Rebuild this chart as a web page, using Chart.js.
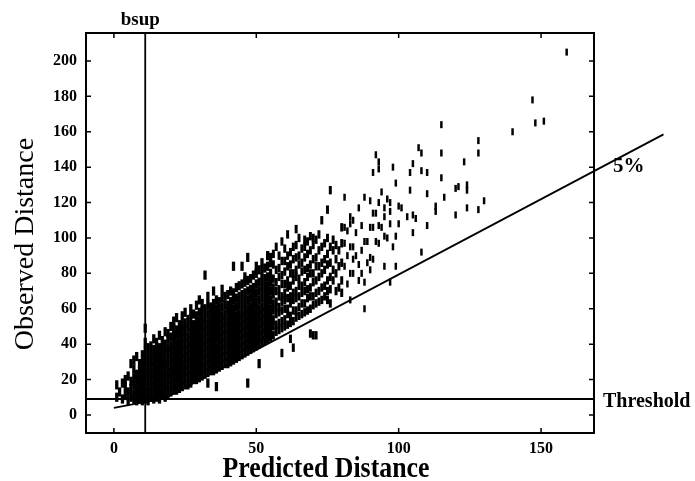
<!DOCTYPE html>
<html>
<head>
<meta charset="utf-8">
<script src="https://cdn.jsdelivr.net/npm/chart.js@4"></script>
<style>
  html, body { margin: 0; padding: 0; background: #fff; }
  canvas { display: block; }
</style>
</head>
<body>
<canvas id="chart" width="695" height="481"></canvas>
<script>
// axis ticks
const xTicks = [0, 50, 100, 150]
const yTicks = [0, 20, 40, 60, 80, 100, 120, 140, 160, 180, 200]

// reference lines
const bsup = 11
const threshold = 9
const fivePct = [[0, 4], [18, 9.5], [193, 158.5]]

const leftCols = [
  [1, [10, 17]], [2, [13]], [3, [18, 9]], [4, [16, 11, 20]], [5, [8, 13, 22]],
  [6, [10, 15, 19, 29]], [7, [9, 12, 17, 21, 26, 31]], [8, [8, 11, 14, 19, 23, 33]],
  [9, [9, 12, 16, 20, 25, 29]]
]

const denseCols = [
  [10, [8, 11, 15, 18, 22, 26, 29, 34]],
  [11, [9, 13, 16, 20, 24, 27, 31, 36, 41, 49]],
  [12, [8, 12, 15, 19, 22, 26, 30, 33, 38]],
  [13, [10, 13, 17, 21, 24, 28, 31, 35, 39]],
  [14, [9, 12, 16, 19, 23, 27, 30, 34, 37, 43]],
  [15, [10, 14, 17, 21, 25, 28, 32, 36, 41]],
  [16, [9, 13, 16, 20, 23, 27, 31, 35, 38, 45]],
  [17, [11, 15, 18, 22, 26, 30, 33, 37, 42]],
  [18, [10, 14, 17, 21, 25, 29, 32, 36, 40, 47]],
  [19, [12, 16, 20, 23, 27, 31, 35, 38, 43, 46]],
  [20, [13, 17, 21, 24, 28, 32, 36, 39, 44, 50]],
  [21, [14, 18, 22, 25, 29, 33, 37, 41, 45, 49, 53]],
  [22, [14, 18, 21, 25, 29, 33, 36, 40, 45, 48, 55]],
  [23, [15, 19, 23, 27, 30, 34, 38, 42, 46, 51]],
  [24, [16, 20, 24, 27, 31, 35, 39, 43, 47, 51, 56]],
  [25, [17, 21, 25, 28, 32, 36, 40, 44, 48, 52, 58]],
  [26, [17, 21, 25, 29, 33, 37, 40, 44, 49, 54]],
  [27, [18, 22, 26, 30, 34, 38, 42, 46, 50, 55, 60]],
  [28, [20, 23, 27, 31, 35, 39, 43, 47, 51, 57]],
  [29, [20, 24, 28, 32, 36, 40, 44, 48, 52, 56, 62]],
  [30, [21, 25, 29, 33, 37, 41, 45, 49, 53, 58, 65]],
  [31, [22, 26, 30, 34, 38, 42, 46, 50, 54, 59, 63]],
  [32, [23, 27, 31, 35, 39, 43, 47, 51, 55, 60, 79]],
  [33, [18, 24, 28, 32, 36, 40, 44, 48, 52, 57, 62, 67]],
  [34, [25, 29, 33, 37, 41, 45, 49, 53, 57, 61]],
  [35, [25, 29, 33, 37, 42, 46, 50, 54, 58, 63, 70]],
  [36, [16, 26, 30, 34, 38, 43, 47, 51, 55, 60, 65]],
  [37, [27, 31, 35, 39, 43, 47, 51, 55, 59, 64]],
  [38, [28, 32, 36, 40, 44, 48, 52, 56, 61, 66, 71]],
  [39, [29, 33, 37, 41, 45, 49, 53, 57, 62, 67]],
  [40, [29, 33, 37, 41, 45, 49, 53, 58, 62, 68]],
  [41, [30, 34, 38, 42, 46, 50, 54, 59, 64, 70]],
  [42, [31, 35, 39, 43, 47, 51, 55, 60, 65, 69, 84]],
  [43, [32, 36, 40, 44, 48, 52, 56, 61, 66, 72]],
  [44, [33, 37, 41, 45, 49, 53, 57, 62, 67, 73]],
  [45, [34, 38, 42, 46, 50, 54, 58, 63, 68, 74, 84]],
  [46, [35, 39, 43, 47, 51, 55, 59, 64, 69, 75, 78]],
  [47, [18, 36, 40, 44, 48, 52, 56, 60, 65, 70, 76, 89]],
  [48, [37, 41, 45, 49, 53, 57, 61, 66, 71, 77]],
  [49, [38, 42, 46, 50, 54, 58, 62, 67, 72, 79]],
  [50, [39, 43, 47, 51, 55, 59, 64, 69, 74, 80, 84]],
  [51, [29, 40, 44, 48, 52, 56, 60, 65, 70, 75, 82]],
  [52, [41, 45, 49, 53, 57, 61, 66, 71, 76, 81, 86]],
  [53, [42, 46, 50, 54, 58, 62, 67, 72, 77, 83]],
  [54, [43, 47, 51, 55, 59, 63, 68, 73, 78, 84, 90]],
  [55, [44, 48, 52, 56, 60, 65, 70, 75, 80, 86, 89]]
]

const midCols = [
  [56, [45, 50, 54, 59, 63, 68, 72, 77, 85, 91]],
  [57, [47, 51, 57, 61, 64, 70, 75, 82, 95]],
  [58, [48, 52, 58, 61, 67, 71, 78, 83, 90]],
  [59, [35, 49, 53, 59, 64, 67, 74, 79, 87, 98]],
  [60, [50, 54, 60, 65, 69, 74, 81, 87, 94]],
  [61, [51, 57, 60, 66, 72, 76, 84, 90, 102]],
  [62, [43, 52, 56, 63, 67, 73, 80, 85, 92]],
  [63, [38, 53, 59, 65, 69, 76, 80, 88, 95]],
  [64, [55, 59, 66, 70, 78, 82, 89, 96, 105]],
  [65, [56, 61, 67, 73, 77, 85, 90, 100]],
  [66, [57, 63, 69, 73, 81, 86, 94]],
  [67, [58, 63, 70, 75, 82, 89, 95, 99]],
  [68, [59, 66, 71, 78, 83, 91, 98]],
  [69, [46, 60, 67, 72, 80, 85, 93, 101]],
  [70, [45, 62, 67, 75, 80, 88, 96, 100]],
  [71, [45, 63, 69, 76, 84, 89, 99]],
  [72, [64, 70, 78, 84, 93, 102]],
  [73, [65, 72, 80, 86, 95, 110]],
  [74, [67, 73, 82, 88, 97]],
  [75, [65, 70, 76, 85, 91, 100, 116]],
  [76, [63, 71, 78, 86, 95, 127]],
  [77, [76, 82, 93, 99]],
  [78, [70, 80, 88, 96]],
  [79, [72, 84, 93]],
  [80, [69, 76, 86, 97, 106]]
]

const farCols = [
  [81, [84, 97, 106, 123]], [82, [74, 90, 104]], [83, [65, 80, 95, 108, 112]],
  [84, [80, 88, 95, 110]], [85, [90, 103]], [86, [76, 85, 117]], [87, [80, 93, 107]],
  [88, [60, 75, 98, 123]], [89, [86, 98]], [90, [82, 89, 106, 121]],
  [91, [88, 106, 114, 137]], [92, [98, 114, 147]], [93, [97, 107, 120, 139, 143]],
  [94, [106, 126]], [95, [84, 101, 112, 117]], [96, [100, 122]], [97, [75, 108, 115, 120]],
  [98, [95, 140]], [99, [84, 101, 131]], [100, [108, 118]], [101, [117]], [103, [112]],
  [104, [127, 137]], [105, [103, 113, 142]], [106, [111]], [107, [151]],
  [108, [92, 138, 148]], [110, [107, 125, 137]], [113, [115, 118]],
  [115, [134, 148, 164]], [116, [123]], [120, [113, 128]], [121, [129]], [123, [143]],
  [124, [117, 127, 130]], [128, [116, 148, 155]], [130, [121]], [140, [160]],
  [147, [178]], [148, [165]], [151, [166]], [159, [205]]
]

const toPoints = cols => cols.flatMap(([x, ys]) => ys.map(y => ({ x, y })))

const serif = '"Liberation Serif", "Times New Roman", serif'

// frame, inward ticks and the text annotations
const decorations = {
  id: "decorations",
  afterDraw(chart) {
    const { ctx, chartArea: a, scales: { x, y } } = chart
    ctx.save()
    ctx.strokeStyle = "#000"
    ctx.fillStyle = "#000"
    ctx.lineWidth = 2
    ctx.strokeRect(a.left, a.top, a.right - a.left, a.bottom - a.top)

    ctx.lineWidth = 1.5
    ctx.beginPath()
    xTicks.forEach(v => {
      const px = x.getPixelForValue(v)
      ctx.moveTo(px, a.bottom); ctx.lineTo(px, a.bottom - 5)
      ctx.moveTo(px, a.top); ctx.lineTo(px, a.top + 5)
    })
    yTicks.forEach(v => {
      const py = y.getPixelForValue(v)
      ctx.moveTo(a.left, py); ctx.lineTo(a.left + 5, py)
      ctx.moveTo(a.right, py); ctx.lineTo(a.right - 5, py)
    })
    ctx.stroke()

    ctx.textBaseline = "alphabetic"
    ctx.font = "bold 19px " + serif
    ctx.textAlign = "center"
    ctx.fillText("bsup", x.getPixelForValue(bsup) - 5, 25)

    ctx.font = "bold 21px " + serif
    ctx.textAlign = "left"
    ctx.fillText("5%", 613, 172)

    ctx.font = "bold 20px " + serif
    ctx.fillText("Threshold", 603, 407)

    ctx.font = "bold 30px " + serif
    ctx.textAlign = "center"
    ctx.fillText("Predicted Distance", 326, 477, 207)

    ctx.translate(33, 244)
    ctx.rotate(-Math.PI / 2)
    ctx.font = "28px " + serif
    ctx.fillText("Observed Distance", 0, 0)
    ctx.restore()
  }
}

const lineStyle = {
  showLine: true,
  borderColor: "#000",
  borderWidth: 1.8,
  pointRadius: 0,
  order: 0
}

const markStyle = {
  pointStyle: "line",
  rotation: 90,
  borderColor: "#000",
  backgroundColor: "#000",
  order: 1
}

new Chart(document.getElementById("chart"), {
  type: "scatter",
  data: {
    datasets: [
      { ...markStyle, label: "dense", radius: 4.6, borderWidth: 3.3, data: toPoints([...leftCols, ...denseCols]) },
      { ...markStyle, label: "mid", radius: 4.2, borderWidth: 3, data: toPoints(midCols) },
      { ...markStyle, label: "far", radius: 3.5, borderWidth: 2.5, data: toPoints(farCols) },
      { ...lineStyle, label: "bsup", data: [{ x: bsup, y: -10.2 }, { x: bsup, y: 215.8 }] },
      { ...lineStyle, label: "threshold", data: [{ x: -9.8, y: threshold }, { x: 168.6, y: threshold }] },
      { ...lineStyle, label: "5%", clip: false, data: fivePct.map(([x, y]) => ({ x, y })) }
    ]
  },
  options: {
    responsive: false,
    animation: false,
    devicePixelRatio: 1,
    layout: { padding: { left: 0, top: 33, right: 101, bottom: 0 } },
    plugins: {
      legend: { display: false },
      tooltip: { enabled: false }
    },
    scales: {
      x: {
        type: "linear",
        min: -9.8,
        max: 168.6,
        grid: { display: false, drawTicks: false },
        border: { display: false },
        afterBuildTicks: scale => { scale.ticks = xTicks.map(value => ({ value })) },
        afterFit: scale => { scale.height = 48 },
        ticks: {
          padding: 6,
          color: "#000",
          font: { family: serif, size: 16, weight: "bold" }
        }
      },
      y: {
        type: "linear",
        min: -10.2,
        max: 215.8,
        grid: { display: false, drawTicks: false },
        border: { display: false },
        afterBuildTicks: scale => { scale.ticks = yTicks.map(value => ({ value })) },
        afterFit: scale => { scale.width = 86 },
        ticks: {
          padding: 9,
          color: "#000",
          font: { family: serif, size: 16, weight: "bold" }
        }
      }
    }
  },
  plugins: [decorations]
})
</script>
</body>
</html>
